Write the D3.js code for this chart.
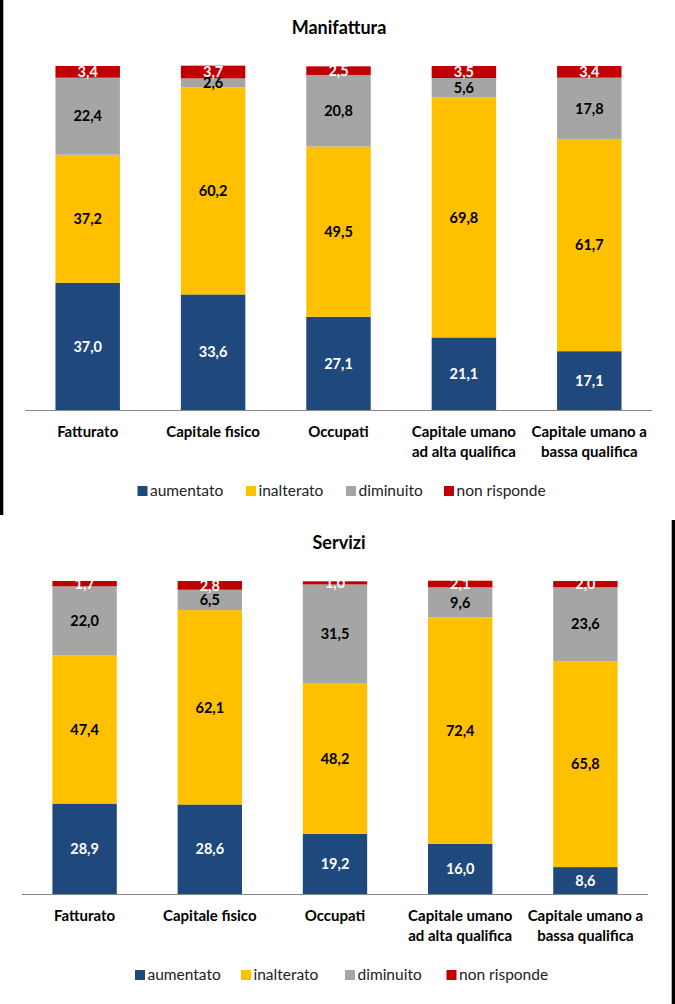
<!DOCTYPE html>
<html><head><meta charset="utf-8">
<script src="https://cdn.jsdelivr.net/npm/d3@7"></script>
<style>html,body{margin:0;padding:0;background:#fff;}svg{display:block;}</style>
</head><body>
<script>
const categories = [["Fatturato"],["Capitale fisico"],["Occupati"],["Capitale umano","ad alta qualifica"],["Capitale umano a","bassa qualifica"]];
const seriesNames = ["aumentato","inalterato","diminuito","non risponde"];
const seriesColors = ["#1F497D","#FFC000","#A5A5A5","#C00000"];
const labelColors = ["#fff","#000","#000","#fff"];
const manAumentato = [37.0,33.6,27.1,21.1,17.1];
const manInalterato = [37.2,60.2,49.5,69.8,61.7];
const manDiminuito = [22.4,2.6,20.8,5.6,17.8];
const manNonRisponde = [3.4,3.7,2.5,3.5,3.4];
const serAumentato = [28.9,28.6,19.2,16.0,8.6];
const serInalterato = [47.4,62.1,48.2,72.4,65.8];
const serDiminuito = [22.0,6.5,31.5,9.6,23.6];
const serNonRisponde = [1.7,2.8,1.0,2.1,2.0];

const W=675,H=1004;
const svg=d3.select("body").append("svg").attr("width",W).attr("height",H);
const font="Lato, 'Open Sans', sans-serif";
const fmt=v=>d3.format(".1f")(v).replace(".",",");

// panel borders
svg.append("rect").attr("x",0).attr("y",0).attr("width",3.3).attr("height",515).attr("fill","#000");
svg.append("rect").attr("x",671.7).attr("y",520).attr("width",3.3).attr("height",484).attr("fill","#000");

function panel(opt){
  const {title,titleY,x0,x1,yTop,yBase,catY,legY,legX,series}=opt;
  const g=svg.append("g");
  const x=d3.scaleBand().domain(d3.range(categories.length)).range([x0,x1]).paddingInner(0.486).paddingOuter(0.243);
  const y=d3.scaleLinear().domain([0,100]).range([yBase,yTop]);
  g.append("text").attr("x",339).attr("y",titleY).attr("text-anchor","middle")
   .attr("font-family",font).attr("font-weight","bold").attr("font-size",18).text(title);
  const rows=categories.map((c,i)=>{const o={i};seriesNames.forEach((s,k)=>o[s]=series[k][i]);return o;});
  const stacked=d3.stack().keys(seriesNames)(rows);
  stacked.forEach((layer,k)=>{
    const lg=g.append("g");
    lg.selectAll("rect").data(layer).join("rect")
      .attr("x",d=>x(d.data.i)).attr("width",x.bandwidth())
      .attr("y",d=>y(d[1])).attr("height",d=>y(d[0])-y(d[1]))
      .attr("fill",seriesColors[k]);
  });
  stacked.forEach((layer,k)=>{
    g.append("g").selectAll("text").data(layer).join("text")
      .attr("x",d=>x(d.data.i)+x.bandwidth()/2)
      .attr("y",d=>(y(d[0])+y(d[1]))/2)
      .attr("dy","0.36em").attr("text-anchor","middle")
      .attr("font-family",font).attr("font-weight","bold").attr("font-size",14.5)
      .attr("fill",labelColors[k]).text(d=>fmt(d[1]-d[0]));
  });
  g.append("line").attr("x1",x0).attr("x2",x1).attr("y1",yBase+0.5).attr("y2",yBase+0.5)
   .attr("stroke","#888").attr("stroke-width",1);
  categories.forEach((lines,i)=>{
    const t=g.append("text").attr("x",x(i)+x.bandwidth()/2).attr("y",catY).attr("text-anchor","middle")
      .attr("font-family",font).attr("font-weight","bold").attr("font-size",15);
    lines.forEach((l,j)=>t.append("tspan").attr("x",x(i)+x.bandwidth()/2).attr("dy",j?20:0).text(l));
  });
  seriesNames.forEach((s,k)=>{
    g.append("rect").attr("x",legX[k]).attr("y",legY-5).attr("width",10).attr("height",10).attr("fill",seriesColors[k]);
    g.append("text").attr("x",legX[k]+12.5).attr("y",legY).attr("dy","0.35em")
      .attr("font-family",font).attr("font-size",15.5).attr("fill","#222").text(s);
  });
}

panel({title:"Manifattura",titleY:34,x0:25,x1:652,yTop:66,yBase:410,catY:437,legY:491,
  legX:[137.5,246,346,444],series:[manAumentato,manInalterato,manDiminuito,manNonRisponde]});
panel({title:"Servizi",titleY:549,x0:22,x1:648,yTop:581,yBase:894,catY:921,legY:975,
  legX:[135,241,345,446.5],series:[serAumentato,serInalterato,serDiminuito,serNonRisponde]});
</script>
</body></html>
